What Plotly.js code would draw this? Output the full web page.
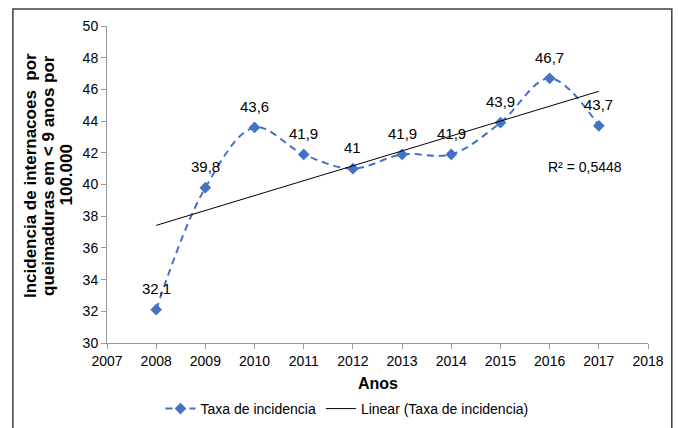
<!DOCTYPE html>
<html>
<head>
<meta charset="utf-8">
<script src="https://cdn.plot.ly/plotly-3.0.1.min.js"></script>
<style>
html,body{margin:0;padding:0;background:#fff;}
#chart{width:678px;height:428px;}
</style>
</head>
<body>
<div id="chart"></div>
<script>
const years = [2008, 2009, 2010, 2011, 2012, 2013, 2014, 2015, 2016, 2017];
const taxa = [32.1, 39.8, 43.6, 41.9, 41.0, 41.9, 41.9, 43.9, 46.7, 43.7];
const taxaLabels = ["32,1", "39,8", "43,6", "41,9", "41", "41,9", "41,9", "43,9", "46,7", "43,7"];
const xTicks = [2007, 2008, 2009, 2010, 2011, 2012, 2013, 2014, 2015, 2016, 2017, 2018];
const yTicks = [30, 32, 34, 36, 38, 40, 42, 44, 46, 48, 50];
const yTitleLines = ["Incidencia de internacoes  por", "queimaduras em < 9 anos por", "100.000"];
const xTitle = "Anos";
const r2Text = "R² = 0,5448";

// least-squares linear trend from the data
const n = years.length;
const mx = years.reduce((a, b) => a + b, 0) / n;
const my = taxa.reduce((a, b) => a + b, 0) / n;
let sxy = 0, sxx = 0;
for (let i = 0; i < n; i++) { sxy += (years[i] - mx) * (taxa[i] - my); sxx += (years[i] - mx) ** 2; }
const slope = sxy / sxx, icpt = my - slope * mx;
const trendX = [years[0], years[n - 1]];
const trendY = trendX.map(x => icpt + slope * x);

const reg = "Liberation Sans, Arial, sans-serif";

const traces = [
  {
    x: years, y: taxa, type: 'scatter', mode: 'lines+markers',
    name: 'Taxa de incidencia',
    line: {color: '#4472C4', width: 2, dash: '7px,5px', shape: 'spline'},
    marker: {symbol: 'diamond', size: 9, color: '#4472C4'},
    cliponaxis: false
  },
  {
    x: trendX, y: trendY, type: 'scatter', mode: 'lines',
    name: 'Linear (Taxa de incidencia)',
    line: {color: '#000', width: 1}
  }
];

const annotations = [];
// data labels
years.forEach((yr, i) => annotations.push({
  x: yr, y: taxa[i], xref: 'x', yref: 'y', text: taxaLabels[i], showarrow: false,
  yshift: 21, font: {family: reg, size: 15, color: '#000'}
}));
// R2
annotations.push({x: 2016.72, y: 41.1, xref: 'x', yref: 'y', text: r2Text, showarrow: false,
  font: {family: reg, size: 14, color: '#000'}});
// y title lines
const yTitleX = [30.5, 48.5, 66];
yTitleLines.forEach((t, i) => annotations.push({
  x: (yTitleX[i] - 107) / 541, y: (343 - 175.5) / 317, xref: 'paper', yref: 'paper',
  text: '<b>' + t + '</b>', showarrow: false, textangle: -90,
  xanchor: 'center', yanchor: 'middle',
  font: {family: reg, size: 17, color: '#000'}
}));
// x title
annotations.push({x: 0.5, y: (343 - 383) / 317, xref: 'paper', yref: 'paper',
  text: '<b>' + xTitle + '</b>', showarrow: false, xanchor: 'center', yanchor: 'middle',
  font: {family: reg, size: 16, color: '#000'}});

const layout = {
  width: 678, height: 428,
  margin: {l: 107, r: 30, t: 26, b: 85, autoexpand: false},
  paper_bgcolor: '#fff', plot_bgcolor: '#fff',
  font: {family: reg, size: 14, color: '#000'},
  showlegend: true,
  legend: {orientation: 'h', xref: 'container', yref: 'container',
           x: 347 / 678, xanchor: 'center', y: 1 - 409 / 428, yanchor: 'middle',
           font: {family: reg, size: 14, color: '#000'}, traceorder: 'normal',
           bgcolor: 'rgba(0,0,0,0)'},
  xaxis: {
    range: [2007, 2018], tickvals: xTicks, ticktext: xTicks.map(String),
    showgrid: false, zeroline: false, showline: true, linecolor: '#999', linewidth: 1,
    ticks: 'outside', ticklen: 5, tickcolor: '#999', automargin: false,
    tickfont: {family: reg, size: 14, color: '#000'}
  },
  yaxis: {
    range: [30, 50], tickvals: yTicks, ticktext: yTicks.map(String),
    showgrid: false, zeroline: false, showline: true, linecolor: '#999', linewidth: 1,
    ticks: 'outside', ticklen: 5, tickcolor: '#999', automargin: false,
    tickfont: {family: reg, size: 14, color: '#000'}
  },
  annotations: annotations,
  shapes: [
    {type: 'rect', xref: 'paper', yref: 'paper', x0: -0.174, x1: 1.044, y0: -0.3, y1: 1.054,
     line: {color: '#404040', width: 1.5}, fillcolor: 'rgba(0,0,0,0)', layer: 'below'}
  ]
};

Plotly.newPlot('chart', traces, layout, {displayModeBar: false, staticPlot: true});
</script>
</body>
</html>
